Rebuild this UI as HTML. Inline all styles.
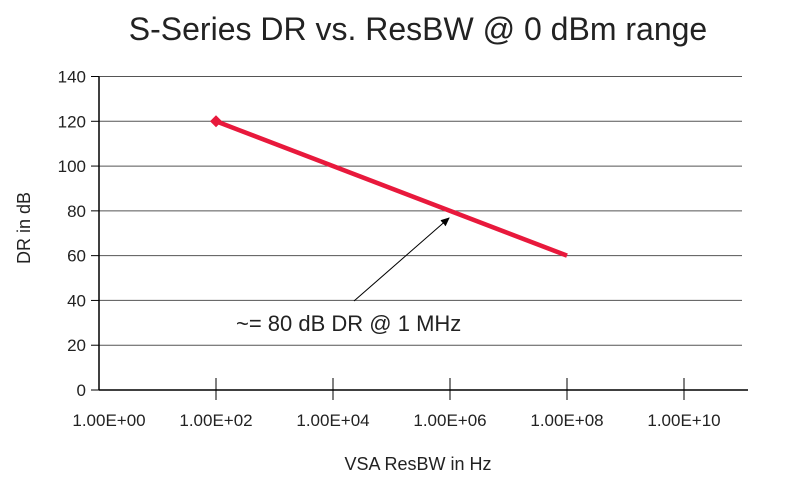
<!DOCTYPE html>
<html><head><meta charset="utf-8"><style>
body{margin:0;background:#fff;}
svg text{font-family:"Liberation Sans",sans-serif;fill:#222;}
</style></head><body>
<svg width="804" height="483" viewBox="0 0 804 483">
<text x="418" y="40" font-size="32" text-anchor="middle">S-Series DR vs. ResBW @ 0 dBm range</text>
<g id="grid"></g>
<g id="axes"></g>
<g id="series"></g>
<text x="30" y="228" font-size="18" text-anchor="middle" transform="rotate(-90 30 228)">DR in dB</text>
<text x="418" y="470" font-size="18" text-anchor="middle">VSA ResBW in Hz</text>
<defs><marker id="ah" markerWidth="10" markerHeight="10" refX="8" refY="5" orient="auto" markerUnits="userSpaceOnUse"><path d="M0,1 L9,5 L0,9 Z" fill="#000"/></marker></defs>
<line x1="354" y1="301" x2="449" y2="218" stroke="#000" stroke-width="1" marker-end="url(#ah)"/>
<text x="236" y="331" font-size="22">~= 80 dB DR @ 1 MHz</text>
</svg>
<script>
const yTicks=[0,20,40,60,80,100,120,140];
const xTickExps=[0,2,4,6,8,10];
const xTickLabels=["1.00E+00","1.00E+02","1.00E+04","1.00E+06","1.00E+08","1.00E+10"];
const seriesX=[1e2,1e8];
const seriesY=[120,60];
const NS="http://www.w3.org/2000/svg";
const X0=99,X1=748,DEC=58.5,Y0=390,Y1=76.5;
function xs(v){return X0+Math.log10(v)*DEC;}
function ys(v){return Y0-(v/140)*(Y0-Y1);}
function mk(tag,attrs,parent){const e=document.createElementNS(NS,tag);for(const k in attrs)e.setAttribute(k,attrs[k]);document.getElementById(parent).appendChild(e);return e;}
yTicks.forEach(t=>{
  const y=ys(t);
  if(t>0){const g=mk('line',{x1:X0,x2:742,y1:y,y2:y,stroke:'#555','stroke-width':1},'grid');
  
  }
  const tk=mk('line',{x1:X0-8,x2:X0,y1:y,y2:y,stroke:'#000','stroke-width':1},'axes');
  
  
  const lb=mk('text',{x:X0-13,y:y+6,'font-size':17,'text-anchor':'end'},'axes');
  lb.textContent=t;
  
  
});
const ya=mk('line',{x1:X0,x2:X0,y1:Y1,y2:Y0,stroke:'#000','stroke-width':1.5},'axes');


const xa=mk('line',{x1:X0,x2:X1,y1:Y0,y2:Y0,stroke:'#000','stroke-width':1.5},'axes');


xTickExps.forEach((e,i)=>{
  const x=xs(Math.pow(10,e));
  if(e>0){const tk=mk('line',{x1:x,x2:x,y1:Y0-12,y2:Y0+10,stroke:'#000','stroke-width':1},'axes');
  
  }
  const lb=mk('text',{x:x+(e===0?10:0),y:426,'font-size':17,'text-anchor':'middle'},'axes');
  lb.textContent=xTickLabels[i];
  
  
});
const pts=seriesX.map((v,i)=>xs(v)+','+ys(seriesY[i])).join(' ');
const pl=mk('polyline',{points:pts,fill:'none',stroke:'#e8193c','stroke-width':4.5},'series');


const mx=xs(seriesX[0]),my=ys(seriesY[0]);
const dm=mk('polygon',{points:`${mx-6},${my} ${mx},${my-6} ${mx+6},${my} ${mx},${my+6}`,fill:'#e8193c'},'series');


</script>
</body></html>
